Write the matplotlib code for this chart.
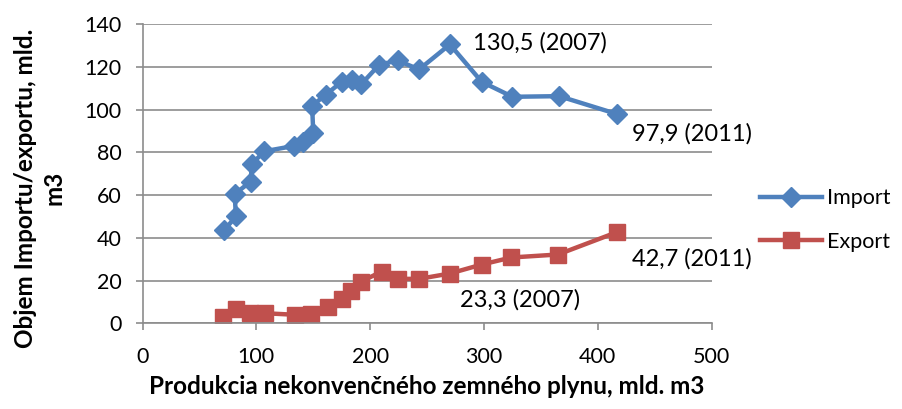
import matplotlib.pyplot as plt

plt.rcParams['font.family'] = ['Lato', 'DejaVu Sans']

# Import vs. unconventional gas production (mld. m3)
imp_x = [72, 82, 81, 95, 96, 107, 133, 141, 150, 149, 161, 175, 184, 192,
         208, 224, 243, 270, 298, 325, 366, 417]
imp_y = [43.7, 50, 60.5, 66.3, 74.5, 80.5, 83, 85, 89, 101.8, 107, 113, 114, 111.8,
         121, 123, 118.8, 130.5, 113, 106, 106.3, 97.9]

# Export vs. unconventional gas production (mld. m3)
exp_x = [71, 82, 94, 108, 134, 148, 163, 175, 183, 192, 210, 224, 243,
         270, 298, 324, 365, 417]
exp_y = [3, 6.5, 4.7, 4.7, 4, 4.5, 7.5, 11.2, 15, 19.5, 24.2, 20.8, 20.8,
         23.3, 27.5, 30.8, 32.2, 42.7]

labels = ['130,5 (2007)', '97,9 (2011)', '42,7 (2011)', '23,3 (2007)']

blue = '#4F81BD'
red = '#C0504D'
grid = '#8C8C8C'

fig = plt.figure(figsize=(9.02, 4.09), dpi=100)
ax = fig.add_axes([0.158, 0.2095, 0.631, 0.7315])

ax.plot(imp_x, imp_y, color=blue, lw=3.2, marker='D', ms=10, label='Import')
ax.plot(exp_x, exp_y, color=red, lw=3.2, marker='s', ms=12, label='Export')

ax.set_xlim(0, 500)
ax.set_ylim(0, 140)
ax.set_xticks(range(0, 501, 100))
ax.set_yticks(range(0, 141, 20))
ax.yaxis.grid(True, color=grid, lw=1.2)
ax.set_axisbelow(True)
for s in ['top', 'right']:
    ax.spines[s].set_visible(False)
for s in ['left', 'bottom']:
    ax.spines[s].set_color(grid)
    ax.spines[s].set_linewidth(1.2)
ax.tick_params(colors=grid, labelcolor='black', labelsize=15.5, length=5, width=1.2)
ax.tick_params(axis='x', pad=12)
ax.tick_params(axis='y', pad=10)

ax.set_xlabel('Produkcia nekonvenčného zemného plynu, mld. m3',
              fontsize=17.5, fontweight='bold', labelpad=6)
ax.set_ylabel('Objem Importu/exportu, mld.\nm3', fontsize=17.5,
              fontweight='bold', linespacing=1.3)
ax.yaxis.set_label_coords(-0.135, 0.452)

offsets = [(17, 1.5), (11, -14), (11, -19), (7, -19)]
points = [(imp_x[17], imp_y[17]), (imp_x[21], imp_y[21]),
          (exp_x[17], exp_y[17]), (exp_x[13], exp_y[13])]
for lab, pt, off in zip(labels, points, offsets):
    ax.annotate(lab, pt, xytext=off, textcoords='offset points',
                fontsize=17, va='center', ha='left')

fig.legend(*ax.get_legend_handles_labels(), loc='center left',
           bbox_to_anchor=(0.8426, 0.462), frameon=False, fontsize=15.5,
           handlelength=2.9, handletextpad=0.2, labelspacing=1.1,
           borderaxespad=0, borderpad=0)

fig.savefig('out.png', dpi=100)
